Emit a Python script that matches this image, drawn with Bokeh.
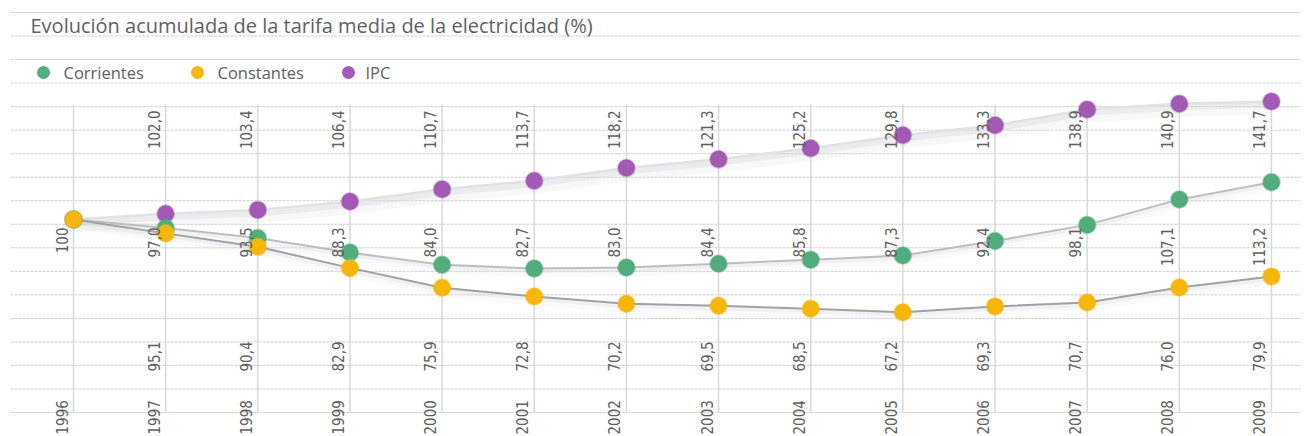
import math
from bokeh.plotting import figure
from bokeh.models import Range1d
from bokeh.core.properties import value
from bokeh.embed import file_html
from bokeh.resources import INLINE

# --- data -------------------------------------------------------------
years = [1996, 1997, 1998, 1999, 2000, 2001, 2002, 2003, 2004, 2005, 2006, 2007, 2008, 2009]
corrientes = [100, 97.0, 93.5, 88.3, 84.0, 82.7, 83.0, 84.4, 85.8, 87.3, 92.4, 98.1, 107.1, 113.2]
constantes = [100, 95.1, 90.4, 82.9, 75.9, 72.8, 70.2, 69.5, 68.5, 67.2, 69.3, 70.7, 76.0, 79.9]
ipc = [100, 102.0, 103.4, 106.4, 110.7, 113.7, 118.2, 121.3, 125.2, 129.8, 133.3, 138.9, 140.9, 141.7]

series_names = ["Corrientes", "Constantes", "IPC"]
title_text = "Evolución acumulada de la tarifa media de la electricidad (%)"

# --- layout (pixels) --------------------------------------------------
W, H = 1308, 436
X_FIRST, X_STEP = 73.0, 92.15        # pixel of first year, pixels per year
Y_BASE, PX_PER_UNIT = 219.0, 2.83    # pixel of value 100, pixels per unit

GREEN = "#52ad7c"
YELLOW = "#f6b60c"
PURPLE = "#a25ab4"
TEXT = "#616161"
NUM_FONT = value("DejaVu Sans Condensed")
TXT_FONT = value("Open Sans")


def fmt(v):
    return f"{v:.1f}".replace(".", ",")


p = figure(width=W, height=H, output_backend="svg", toolbar_location=None,
           x_range=Range1d(0, W), y_range=Range1d(H, 0),
           x_axis_location=None, y_axis_location=None,
           min_border=0, outline_line_color=None, background_fill_color="white")
p.grid.visible = False

# data coordinate systems on top of the pixel frame
p.extra_x_ranges = {"yr": Range1d(years[0] - X_FIRST / X_STEP,
                                  years[0] + (W - X_FIRST) / X_STEP)}
p.extra_y_ranges = {"val": Range1d(100 - (H - Y_BASE) / PX_PER_UNIT,
                                   100 + Y_BASE / PX_PER_UNIT)}

# ruled background lines
rule_y = [12 + 23.53 * k for k in range(18)]
p.segment(x0=[10] * len(rule_y), x1=[1300] * len(rule_y), y0=rule_y, y1=rule_y,
          line_color="#cfcfcf", line_width=1, line_dash="3 1")

# vertical year lines
p.segment(x0=years, x1=years, y0=[104] * len(years), y1=[412] * len(years),
          x_range_name="yr", line_color="#d9d9d9", line_width=1.5)

# soft ribbons under each series
off = 1.0 / PX_PER_UNIT
for vals, depth, alpha in [(ipc, 13, 0.35), (corrientes, 9, 0.25), (constantes, 9, 0.25)]:
    for frac, a in [(0.5, alpha), (1.0, alpha * 0.5)]:
        p.varea(x=years, y1=vals, y2=[v - depth * frac * off for v in vals],
                x_range_name="yr", y_range_name="val",
                fill_color="#d6d6dc", fill_alpha=a)

# series lines
p.line(years, ipc, x_range_name="yr", y_range_name="val",
       line_color="#e2e2e6", line_width=2.5)
p.line(years, corrientes, x_range_name="yr", y_range_name="val",
       line_color="#bdbdc4", line_width=2)
p.line(years, constantes, x_range_name="yr", y_range_name="val",
       line_color="#a0a0a8", line_width=2)

# markers
for vals, col in [(ipc, PURPLE), (corrientes, GREEN), (constantes, YELLOW)]:
    p.scatter(years, vals, x_range_name="yr", y_range_name="val",
              size=17, fill_color=col, line_color=col, line_alpha=0.35,
              line_width=2)

# value labels (rotated), one row per series
label_kw = dict(x_range_name="yr", angle=math.pi / 2, x_offset=-12,
                text_align="right", text_baseline="middle",
                text_font=NUM_FONT, text_font_size="15px", text_color=TEXT)

p.text(x=years[1:], y=[110] * (len(years) - 1), text=[fmt(v) for v in ipc[1:]], **label_kw)
p.text(x=years, y=[227] * len(years),
       text=["100"] + [fmt(v) for v in corrientes[1:]], **label_kw)
p.text(x=years[1:], y=[341] * (len(years) - 1), text=[fmt(v) for v in constantes[1:]], **label_kw)

# year labels along the bottom edge
year_kw = dict(label_kw, text_align="left")
p.text(x=years, y=[434] * len(years), text=[str(y) for y in years], **year_kw)

# title
p.text(x=[30], y=[25], text=[title_text], text_font=TXT_FONT, text_font_size="20px",
       text_color=TEXT, text_baseline="middle", text_align="left")

# legend
leg_x = [43, 197, 348]
leg_tx = [63, 217, 365]
p.scatter(leg_x, [72] * 3, size=13, fill_color=[GREEN, YELLOW, PURPLE],
          line_color=None)
p.text(x=leg_tx, y=[72] * 3, text=series_names, text_font=TXT_FONT,
       text_font_size="16.5px", text_color=TEXT, text_baseline="middle",
       text_align="left")

open("out.html", "w").write(file_html(p, INLINE))
